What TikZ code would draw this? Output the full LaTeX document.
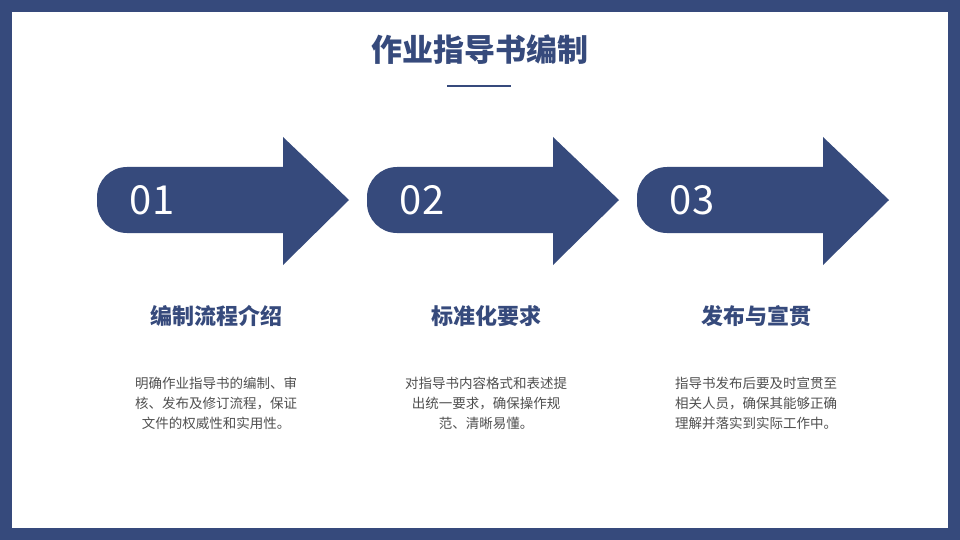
\documentclass[tikz,border=0pt]{standalone}
\usepackage{fontspec}
\setmainfont{Noto Sans CJK SC}
\usetikzlibrary{positioning}
\definecolor{navy}{RGB}{54,74,124}
\definecolor{bodygray}{RGB}{80,80,80}
\tikzset{
  heading/.style={font=\fontsize{22}{26}\selectfont\bfseries, text=navy},
  bodytext/.style={font=\fontsize{13.5}{20}\selectfont, text=bodygray, align=center},
  stepnum/.style={font=\fontsize{40}{44}\selectfont, text=white}
}
\begin{document}
\begin{tikzpicture}[x=1pt, y=-1pt]
    \useasboundingbox (0,0) rectangle (960,540);

    % Frame
    \fill[navy] (0,0) rectangle (960,540);
    \fill[white] (12,12) rectangle (948,528);

    % Title
    \node[font=\fontsize{31}{36}\selectfont\bfseries, text=navy] (title) at (480,50) {作业指导书编制};
    \draw[navy, line width=1.5pt] (447,86) -- (511,86);

    % Arrows
    \foreach \i/\num/\head/\body in {
        0/01/编制流程介绍/{明确作业指导书的编制、审\\核、发布及修订流程，保证\\文件的权威性和实用性。},
        1/02/标准化要求/{对指导书内容格式和表述提\\出统一要求，确保操作规\\范、清晰易懂。},
        2/03/发布与宣贯/{指导书发布后要及时宣贯至\\相关人员，确保其能够正确\\理解并落实到实际工作中。}} {
        \begin{scope}[xshift=\i*270]
            \fill[navy] (283,137) -- (349,200) -- (283,265) -- (283,233)
                [rounded corners=30] -- (97,233) -- (97,167) [sharp corners] -- (283,167) -- cycle;
            \node[stepnum] (num\i) at (152,200) {\num};
            \node[heading] (head\i) at (216,316) {\head};
            \node[bodytext] (body\i) at (216,403) {\body};
        \end{scope}
    }

\end{tikzpicture}
\end{document}
